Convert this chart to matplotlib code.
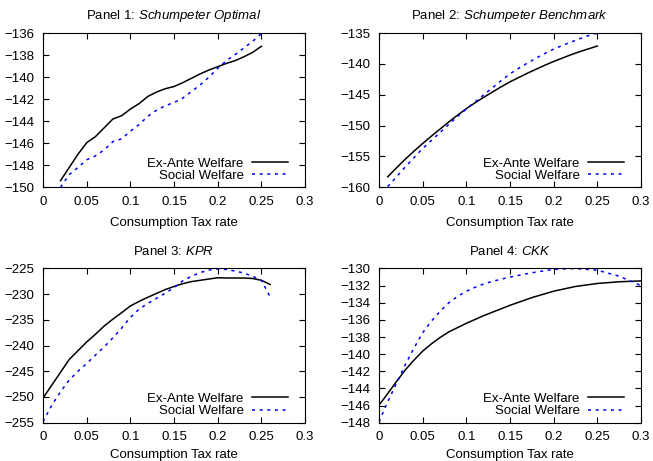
import numpy as np
import matplotlib
matplotlib.use("Agg")
import matplotlib.pyplot as plt

plt.rcParams["font.family"] = ["Liberation Sans", "DejaVu Sans"]
plt.rcParams["mathtext.fontset"] = "custom"
plt.rcParams["mathtext.rm"] = "Liberation Sans"
plt.rcParams["mathtext.it"] = "Liberation Sans:italic"
FS = 9.5

# Panel 1: Schumpeter Optimal
tax1 = [0.02, 0.03, 0.04, 0.05, 0.06, 0.07, 0.08, 0.09, 0.10, 0.11, 0.12, 0.13,
        0.14, 0.15, 0.16, 0.17, 0.18, 0.19, 0.20, 0.21, 0.22, 0.23, 0.24, 0.25]
exante1 = [-149.4, -148.2, -147.0, -145.95, -145.4, -144.6, -143.8, -143.5, -142.9,
           -142.4, -141.75, -141.35, -141.05, -140.85, -140.5, -140.1, -139.7, -139.35,
           -139.05, -138.75, -138.5, -138.15, -137.75, -137.2]
social1 = [-150.0, -148.85, -148.2, -147.5, -147.15, -146.6, -145.85, -145.6, -144.9,
           -144.3, -143.55, -143.0, -142.6, -142.3, -141.9, -141.3, -140.7, -140.0,
           -139.2, -138.5, -137.95, -137.35, -136.75, -136.05]

# Panel 2: Schumpeter Benchmark
tax2 = [0.01, 0.02, 0.03, 0.04, 0.05, 0.06, 0.07, 0.08, 0.09, 0.10, 0.11, 0.12, 0.13,
        0.14, 0.15, 0.16, 0.17, 0.18, 0.19, 0.20, 0.21, 0.22, 0.23, 0.24, 0.25]
exante2 = [-158.3, -156.85, -155.45, -154.15, -152.9, -151.7, -150.55, -149.4, -148.3,
           -147.25, -146.3, -145.4, -144.55, -143.7, -142.9, -142.2, -141.5, -140.85,
           -140.2, -139.6, -139.05, -138.5, -138.0, -137.55, -137.1]
social2 = [-159.9, -158.3, -156.7, -155.2, -153.7, -152.4, -151.1, -149.8, -148.5,
           -147.3, -146.15, -145.0, -143.85, -142.7, -141.6, -140.7, -139.85, -139.05,
           -138.3, -137.6, -137.0, -136.45, -135.9, -135.4, -135.0]

# Panel 3: KPR
tax3 = [0.00, 0.03, 0.04, 0.05, 0.06, 0.07, 0.08, 0.09, 0.10, 0.11, 0.12,
        0.13, 0.14, 0.15, 0.16, 0.17, 0.18, 0.19, 0.20, 0.21, 0.22, 0.23, 0.24, 0.25, 0.26]
exante3 = [-250.2, -242.7, -241.0, -239.3, -237.8, -236.2, -234.85, -233.6, -232.3,
           -231.4, -230.6, -229.85, -229.1, -228.5, -227.95, -227.55, -227.3, -227.05,
           -226.8, -226.85, -226.85, -226.85, -226.95, -227.3, -228.1]
tax3s = [0.00, 0.01, 0.02, 0.03, 0.04, 0.05, 0.06, 0.07, 0.08, 0.09, 0.10, 0.11, 0.12,
         0.13, 0.14, 0.15, 0.16, 0.17, 0.18, 0.19, 0.20, 0.21, 0.22, 0.23, 0.24, 0.25, 0.26]
social3 = [-254.8, -251.6, -249.0, -246.7, -245.0, -243.5, -241.85, -240.25, -238.5,
           -236.6, -234.5, -232.9, -231.8, -230.8, -229.8, -228.7, -227.4, -226.5,
           -225.8, -225.3, -225.1, -225.2, -225.5, -225.9, -226.5, -227.3, -230.5]

# Panel 4: CKK
tax4 = [0.00, 0.01, 0.02, 0.03, 0.04, 0.05, 0.06, 0.07, 0.08, 0.09, 0.10, 0.11, 0.12,
        0.13, 0.14, 0.15, 0.175, 0.20, 0.225, 0.25, 0.275, 0.30]
exante4 = [-145.95, -144.6, -143.2, -141.85, -140.7, -139.65, -138.8, -138.05, -137.4,
           -136.9, -136.4, -135.95, -135.5, -135.1, -134.7, -134.3, -133.4, -132.65,
           -132.1, -131.75, -131.55, -131.45]
social4 = [-147.9, -145.55, -143.4, -141.25, -139.3, -137.5, -136.15, -135.0, -134.0,
           -133.25, -132.65, -132.2, -131.8, -131.5, -131.25, -131.0, -130.5, -130.1,
           -130.0, -130.2, -130.9, -132.0]

panels = [
    ("Panel 1: ", "Schumpeter\\ Optimal", tax1, exante1, tax1, social1, (-150, -136), np.arange(-150, -135, 2)),
    ("Panel 2: ", "Schumpeter\\ Benchmark", tax2, exante2, tax2, social2, (-160, -135), np.arange(-160, -134, 5)),
    ("Panel 3: ", "KPR", tax3, exante3, tax3s, social3, (-255, -225), np.arange(-255, -224, 5)),
    ("Panel 4: ", "CKK", tax4, exante4, tax4, social4, (-148, -130), np.arange(-148, -129, 2)),
]
xticks = [0, 0.05, 0.1, 0.15, 0.2, 0.25, 0.3]
xticklabels = ["0", "0.05", "0.1", "0.15", "0.2", "0.25", "0.3"]

fig = plt.figure(figsize=(6.53, 4.61), dpi=100)
lefts = [0.0659, 0.5804, 0.0659, 0.5804]
bottoms = [0.5937, 0.5937, 0.0831, 0.0831]
W, H = 0.4012, 0.3345

for i, (pre, name, tx, ea, txs, sw, ylim, yt) in enumerate(panels):
    ax = fig.add_axes([lefts[i], bottoms[i], W, H])
    ax.plot(tx, ea, color="black", lw=1.1, label="Ex-Ante Welfare")
    ax.plot(txs, sw, color="#0000ff", lw=1.1, linestyle=(0, (2, 3)), label="Social Welfare")
    ax.set_xlim(0, 0.3)
    ax.set_ylim(*ylim)
    ax.set_xticks(xticks)
    ax.set_xticklabels(xticklabels)
    ax.set_yticks(yt)
    ax.tick_params(direction="in", top=True, right=True, length=4, width=0.8,
                   labelsize=FS)
    ax.tick_params(axis="x", pad=6)
    ax.tick_params(axis="y", pad=6.5)
    for s in ax.spines.values():
        s.set_linewidth(0.8)
    # bottom row label sits a little higher so it stays inside the image
    ax.set_xlabel("Consumption Tax rate", fontsize=FS, labelpad=6.5 if i < 2 else 4.0)
    ax.set_title(pre + "$\\it{" + name + "}$", fontsize=FS, pad=10)
    ax.legend(loc="lower right", bbox_to_anchor=(0.935, 0.035), frameon=False,
              markerfirst=False, fontsize=FS, handlelength=2.75, handletextpad=0.6,
              labelspacing=0, borderpad=0, borderaxespad=0)

fig.savefig("out.png", dpi=100)
